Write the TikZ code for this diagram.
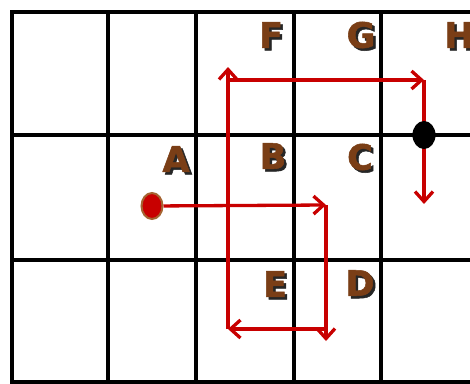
\documentclass[tikz,border=0pt]{standalone}
\usepackage{fontspec}
\setmainfont{DejaVu Sans}
\newfontfamily\letterfont[FakeBold=1.5]{DejaVu Sans Bold}
\usepackage{xcolor}
\usetikzlibrary{shapes.geometric, arrows.meta}
\definecolor{routered}{RGB}{200,0,0}
\definecolor{letterbrown}{RGB}{122,62,22}
\definecolor{dotrim}{RGB}{165,100,50}

\begin{document}
\begin{tikzpicture}[
  x=1pt, y=-1pt,
  gridline/.style={line width=3.5pt, black},
  route/.style={-{Straight Barb[length=10pt, width=18pt]}, line width=3.3pt, routered},
  letter/.style={inner sep=0pt, text=letterbrown, font=\fontsize{35}{35}\letterfont},
  letter shadow/.style={letter, text=black!85},
  startdot/.style={ellipse, draw=dotrim, line width=2pt, fill=routered, minimum width=21pt, minimum height=26pt, inner sep=0pt},
  enddot/.style={ellipse, fill=black, minimum width=23pt, minimum height=28pt, inner sep=0pt}
]
\useasboundingbox (0,0) rectangle (470,383);

% grid
\foreach \x in {12,108,196,294,381}
  \draw[gridline] (\x,12) -- (\x,384);
\foreach \y in {12,135,260,382}
  \draw[gridline] (10.25,\y) -- (472,\y);

% letters
\foreach \name/\px/\py in {A/176/159, B/273/156, C/360/157, D/360/283, E/275/284, F/271/35, G/361/35, H/459/35} {
  \node[letter shadow] at (\px+2.5,\py+2.5) {\name};
  \node[letter] (\name) at (\px,\py) {\name};
}

% route
\node[startdot] (start) at (152,206) {};
\coordinate (r1) at (326,205);
\coordinate (d1) at (326,341);
\coordinate (b1) at (326,329);
\coordinate (b2) at (228,329);
\coordinate (u1) at (228,67);
\coordinate (t1) at (228,80);
\coordinate (t2) at (424,80);
\coordinate (d2) at (424,204);

\draw[route] (start) -- (r1);
\draw[route] (r1) -- (d1);
\draw[route] (b1) -- (b2);
\draw[route] (b2) -- (u1);
\draw[route] (t1) -- (t2);
\draw[route] (t2) -- (d2);

\node[enddot] (finish) at (424,135) {};
\end{tikzpicture}
\end{document}
